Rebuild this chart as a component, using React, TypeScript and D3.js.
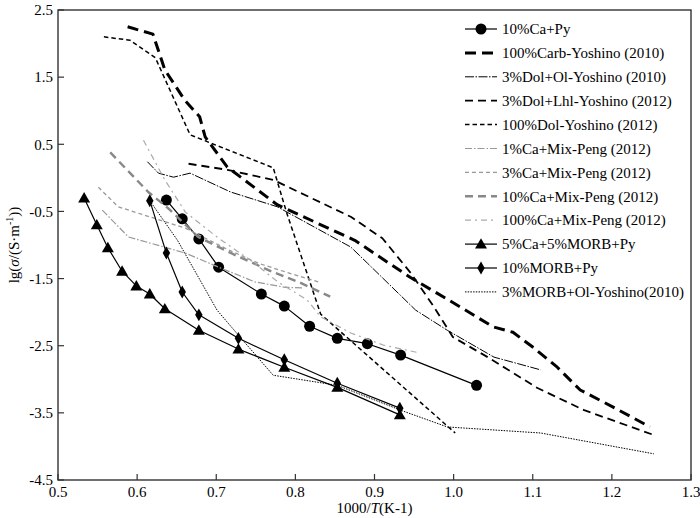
import React from 'react';
import * as d3 from 'd3';

type P = [number, number];

// ---- data (x = 1000/T, y = lg sigma) ----
const caPy: P[] = [
  [0.637, -0.33], [0.657, -0.61], [0.678, -0.91], [0.703, -1.33], [0.757, -1.73],
  [0.786, -1.91], [0.818, -2.21], [0.853, -2.39], [0.891, -2.47], [0.933, -2.64], [1.029, -3.09],
];
const carbYoshino: P[] = [
  [0.588, 2.25], [0.62, 2.14], [0.635, 1.61], [0.66, 1.16], [0.679, 0.91], [0.686, 0.61],
  [0.714, 0.16], [0.777, -0.4], [0.875, -0.93], [0.945, -1.48], [1.008, -1.92], [1.05, -2.22],
  [1.075, -2.3], [1.1, -2.52], [1.131, -2.82], [1.16, -3.16], [1.201, -3.41], [1.248, -3.71],
];
const dolOlYoshino: P[] = [
  [0.613, 0.24], [0.627, 0.07], [0.646, 0.01], [0.667, 0.07], [0.718, -0.21], [0.777, -0.43],
  [0.87, -1.03], [0.891, -1.27], [0.952, -1.97], [0.992, -2.27], [1.051, -2.67], [1.11, -2.86],
];
const dolLhlYoshino: P[] = [
  [0.665, 0.21], [0.714, 0.12], [0.772, -0.03], [0.87, -0.58], [0.91, -0.9], [0.946, -1.42],
  [0.975, -1.92], [0.999, -2.37], [1.043, -2.67], [1.106, -3.13], [1.165, -3.46], [1.253, -3.83],
];
const dolYoshino: P[] = [
  [0.558, 2.1], [0.591, 2.05], [0.623, 1.79], [0.667, 0.64], [0.772, 0.15], [0.789, -0.52],
  [0.832, -2.03], [1.002, -3.8],
];
const ca1Peng: P[] = [
  [0.556, -0.48], [0.589, -0.88], [0.661, -1.12], [0.703, -1.33], [0.749, -1.55],
  [0.787, -1.63], [0.809, -1.64],
];
const ca3Peng: P[] = [
  [0.551, -0.14], [0.576, -0.43], [0.597, -0.51], [0.661, -0.75], [0.715, -1.07],
  [0.753, -1.27], [0.787, -1.4], [0.829, -1.55],
];
const ca10Peng: P[] = [
  [0.566, 0.38], [0.597, 0.0], [0.614, -0.21], [0.639, -0.45], [0.677, -0.88], [0.724, -1.15],
  [0.771, -1.4], [0.804, -1.55], [0.844, -1.77],
];
const ca100Peng: P[] = [
  [0.608, 0.56], [0.635, -0.03], [0.661, -0.51], [0.703, -0.9], [0.746, -1.25], [0.778, -1.55],
  [0.815, -1.82], [0.832, -2.07], [0.87, -2.31], [0.911, -2.49], [0.958, -2.61],
];
const caMorbPy: P[] = [
  [0.533, -0.3], [0.549, -0.7], [0.563, -1.04], [0.581, -1.39], [0.599, -1.61], [0.616, -1.73],
  [0.635, -1.95], [0.678, -2.27], [0.728, -2.55], [0.786, -2.82], [0.853, -3.12], [0.932, -3.53],
];
const morbPy: P[] = [
  [0.616, -0.34], [0.637, -1.12], [0.657, -1.7], [0.678, -2.04], [0.728, -2.39],
  [0.786, -2.71], [0.853, -3.06], [0.932, -3.43],
];
const morbOlYoshino: P[] = [
  [0.616, -0.34], [0.651, -0.93], [0.701, -1.97], [0.714, -2.15], [0.73, -2.37], [0.772, -2.94],
  [0.853, -3.09], [0.933, -3.46], [0.992, -3.71], [1.11, -3.8], [1.253, -4.11],
];

const seriesLabels = [
  '10%Ca+Py', '100%Carb-Yoshino (2010)', '3%Dol+Ol-Yoshino (2010)', '3%Dol+Lhl-Yoshino (2012)',
  '100%Dol-Yoshino (2012)', '1%Ca+Mix-Peng (2012)', '3%Ca+Mix-Peng (2012)', '10%Ca+Mix-Peng (2012)',
  '100%Ca+Mix-Peng (2012)', '5%Ca+5%MORB+Py', '10%MORB+Py', '3%MORB+Ol-Yoshino(2010)',
];
const seriesData: P[][] = [
  caPy, carbYoshino, dolOlYoshino, dolLhlYoshino, dolYoshino, ca1Peng, ca3Peng, ca10Peng,
  ca100Peng, caMorbPy, morbPy, morbOlYoshino,
];

const xTicks = [0.5, 0.6, 0.7, 0.8, 0.9, 1.0, 1.1, 1.2, 1.3];
const yTicks = [2.5, 1.5, 0.5, -0.5, -1.5, -2.5, -3.5, -4.5];

// ---- styles ----
type Style = { color: string; width: number; dash?: string; marker?: 'circle' | 'triangle' | 'diamond' };
const styles: Style[] = [
  { color: '#000', width: 1.2, marker: 'circle' },
  { color: '#000', width: 3, dash: '11,6' },
  { color: '#000', width: 1, dash: '9,1.5,1.5,1.5' },
  { color: '#000', width: 1.8, dash: '8,5' },
  { color: '#000', width: 1.5, dash: '4.5,3' },
  { color: '#999', width: 1.2, dash: '7,2,1.5,2' },
  { color: '#999', width: 1.3, dash: '4,3' },
  { color: '#888', width: 2.4, dash: '8,5' },
  { color: '#aaa', width: 1.2, dash: '6,4,2,4' },
  { color: '#000', width: 1.2, marker: 'triangle' },
  { color: '#000', width: 1.2, marker: 'diamond' },
  { color: '#000', width: 1, dash: '1.5,1.2' },
];

const FONT = "'Liberation Serif', 'Times New Roman', serif";
const W = 700;
const H = 518;
const x = d3.scaleLinear().domain([0.5, 1.3]).range([58, 691]);
const y = d3.scaleLinear().domain([-4.5, 2.5]).range([480, 10]);
const line = d3.line<P>().x((d) => x(d[0])).y((d) => y(d[1])).curve(d3.curveLinear);

const triPath = d3.symbol().type(d3.symbolTriangle).size(62)() as string;
const diaPath = d3.symbol().type(d3.symbolDiamond).size(48)() as string;

function Marker({ kind, cx, cy }: { kind?: string; cx: number; cy: number }) {
  if (kind === 'circle') return <circle cx={cx} cy={cy} r={5.5} fill="#000" />;
  if (kind === 'triangle') return <path d={triPath} transform={`translate(${cx},${cy + 1})`} fill="#000" />;
  if (kind === 'diamond') return <path d={diaPath} transform={`translate(${cx},${cy})`} fill="#000" />;
  return null;
}

export default function App() {
  const [x0, x1] = x.range();
  const [yb, yt] = y.range();
  return (
    <svg width={W} height={H} style={{ position: 'absolute', left: 0, top: 0, background: '#fff' }} fontFamily={FONT}>
      <rect x={0} y={0} width={W} height={H} fill="#fff" />
      {/* series */}
      {seriesData.map((data, i) => {
        const s = styles[i];
        return (
          <g key={i}>
            <path d={line(data) as string} fill="none" stroke={s.color} strokeWidth={s.width}
              strokeDasharray={s.dash} strokeLinejoin="round" />
            {s.marker && data.map((d, j) => <Marker key={j} kind={s.marker} cx={x(d[0])} cy={y(d[1])} />)}
          </g>
        );
      })}
      {/* frame */}
      <rect x={x0} y={yt} width={x1 - x0} height={yb - yt} fill="none" stroke="#333" strokeWidth={1.4} />
      {/* x ticks */}
      {xTicks.map((t) => (
        <g key={t}>
          <line x1={x(t)} x2={x(t)} y1={yb} y2={yb - 6} stroke="#333" strokeWidth={1.2} />
          <text x={x(t)} y={497} textAnchor="middle" fontSize={15}>{t.toFixed(1)}</text>
        </g>
      ))}
      {/* y ticks */}
      {yTicks.map((t) => (
        <g key={t}>
          <line x1={x0} x2={x0 + 6} y1={y(t)} y2={y(t)} stroke="#333" strokeWidth={1.2} />
          <text x={53} y={y(t)} dy="0.35em" textAnchor="end" fontSize={15}>{t.toFixed(1)}</text>
        </g>
      ))}
      {/* axis labels */}
      <text x={(x0 + x1) / 2} y={513} textAnchor="middle" fontSize={15}>
        1000/<tspan fontStyle="italic">T</tspan>(K-1)
      </text>
      <text transform={`translate(19,${(yb + yt) / 2}) rotate(-90)`} textAnchor="middle" fontSize={15}>
        lg(<tspan fontStyle="italic">σ</tspan>/(S·m<tspan fontSize={10} dy={-6}>-1</tspan><tspan dy={6}>))</tspan>
      </text>
      {/* legend */}
      {seriesLabels.map((lab, i) => {
        const s = styles[i];
        const ly = 29 + i * 23.9;
        return (
          <g key={lab}>
            <line x1={465} x2={497} y1={ly} y2={ly} stroke={s.color} strokeWidth={s.width} strokeDasharray={s.dash} />
            {s.marker && <Marker kind={s.marker} cx={481} cy={ly} />}
            <text x={502} y={ly} dy="0.35em" fontSize={15}>{lab}</text>
          </g>
        );
      })}
    </svg>
  );
}
